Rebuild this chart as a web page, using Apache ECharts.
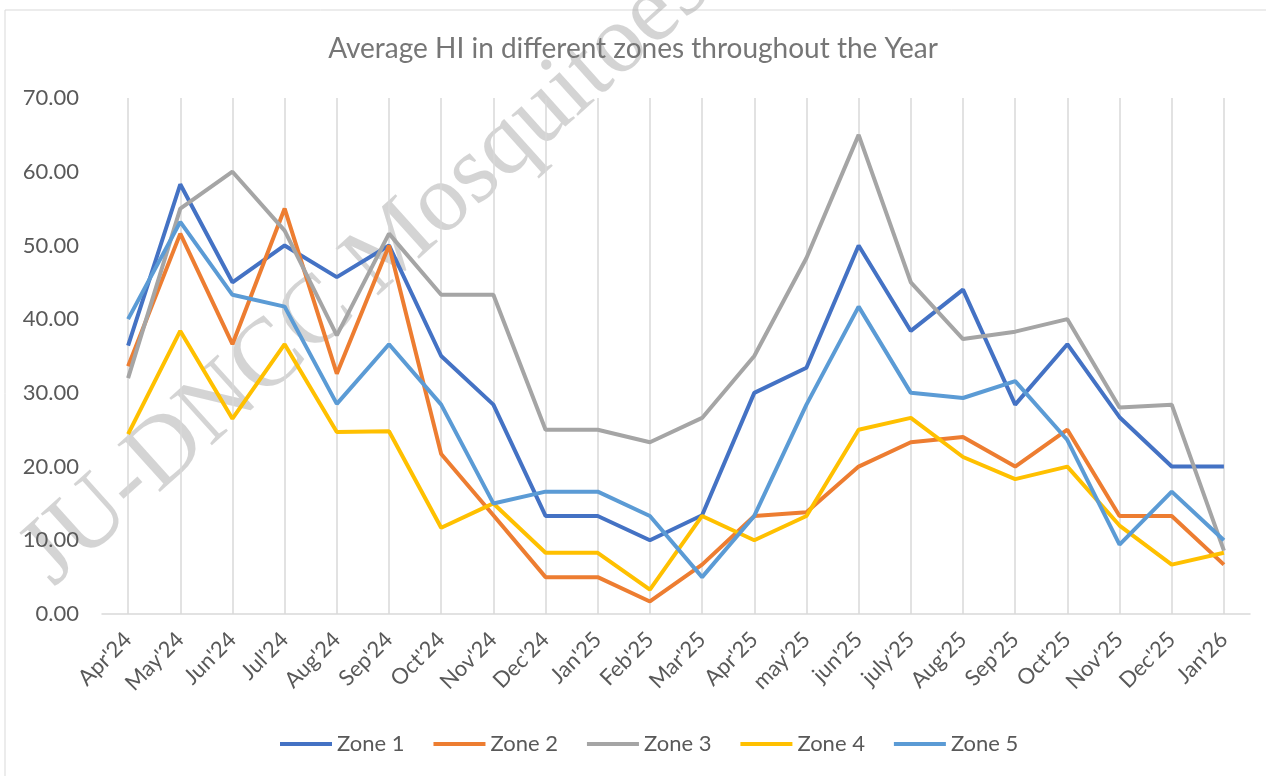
<!DOCTYPE html>
<html>
<head>
<meta charset="utf-8">
<script src="https://cdn.jsdelivr.net/npm/echarts@6/dist/echarts.min.js"></script>
<style>
  html, body { margin: 0; padding: 0; background: #fff; }
  #chart { width: 1266px; height: 776px; }
</style>
</head>
<body>
<div id="chart"></div>
<script>
// months on the x axis
const months = ["Apr'24", "May'24", "Jun'24", "Jul'24", "Aug'24", "Sep'24", "Oct'24", "Nov'24",
  "Dec'24", "Jan'25", "Feb'25", "Mar'25", "Apr'25", "may'25", "jun'25", "july'25",
  "Aug'25", "Sep'25", "Oct'25", "Nov'25", "Dec'25", "Jan'26"];

// average HI per zone
const zone1 = [36.4, 58.3, 45.0, 50.0, 45.7, 50.0, 35.0, 28.4, 13.3, 13.3, 10.0, 13.4,
  30.0, 33.4, 50.0, 38.4, 44.0, 28.4, 36.6, 26.7, 20.0, 20.0];
const zone2 = [33.6, 51.6, 36.6, 55.0, 32.6, 50.0, 21.7, 13.4, 5.0, 5.0, 1.7, 6.7,
  13.3, 13.8, 20.0, 23.3, 24.0, 20.0, 25.0, 13.3, 13.3, 6.7];
const zone3 = [32.0, 55.0, 60.0, 52.0, 37.8, 51.6, 43.3, 43.3, 25.0, 25.0, 23.3, 26.6,
  35.0, 48.3, 65.0, 45.0, 37.3, 38.3, 40.0, 28.0, 28.4, 8.6];
const zone4 = [24.4, 38.4, 26.5, 36.6, 24.7, 24.8, 11.7, 15.0, 8.3, 8.3, 3.3, 13.3,
  10.0, 13.3, 25.0, 26.6, 21.3, 18.3, 20.0, 12.0, 6.7, 8.3];
const zone5 = [40.0, 53.2, 43.3, 41.7, 28.5, 36.6, 28.4, 15.0, 16.6, 16.6, 13.3, 5.0,
  13.3, 28.4, 41.7, 30.0, 29.3, 31.6, 23.6, 9.4, 16.6, 10.0];

const zoneNames = ['Zone 1', 'Zone 2', 'Zone 3', 'Zone 4', 'Zone 5'];
const zoneData = [zone1, zone2, zone3, zone4, zone5];
const zoneColors = ['#4472C4', '#ED7D31', '#A5A5A5', '#FFC000', '#5B9BD5'];

const textColor = '#595959';
const font = 'Lato';

const chart = echarts.init(document.getElementById('chart'));

const option = {
  backgroundColor: '#ffffff',
  animation: false,
  color: zoneColors,
  title: {
    text: 'Average HI in different zones throughout the Year',
    left: 'center',
    top: 30,
    textStyle: { color: '#767676', fontFamily: font, fontSize: 28, fontWeight: 'normal' }
  },
  graphic: [
    {
      type: 'rect',
      z: -10,
      shape: { x: 5, y: 10, width: 1300, height: 800 },
      style: { fill: 'none', stroke: '#d9d9d9', lineWidth: 1 }
    },
    {
      // watermark
      type: 'text',
      z: -5,
      x: 366,
      y: 272,
      rotation: 0.733,
      style: {
        text: 'JU-DNCC Mosquitoes',
        fontFamily: 'Liberation Serif',
        fontSize: 97,
        fill: 'rgba(170,170,170,0.5)',
        align: 'center',
        verticalAlign: 'middle'
      }
    }
  ],
  legend: {
    data: zoneNames,
    bottom: 16,
    left: 275,
    icon: 'rect',
    itemWidth: 52,
    itemHeight: 4,
    itemGap: 29,
    textStyle: { color: textColor, fontFamily: font, fontSize: 22 }
  },
  grid: { left: 102, right: 16, top: 98, bottom: 162, containLabel: false },
  xAxis: {
    type: 'category',
    data: months,
    boundaryGap: true,
    axisLine: { lineStyle: { color: '#d9d9d9', width: 1.5 } },
    axisTick: { show: false },
    axisLabel: {
      rotate: 45,
      interval: 0,
      color: textColor,
      fontFamily: font,
      fontSize: 22,
      margin: 22
    },
    splitLine: { show: true, alignWithLabel: true, lineStyle: { color: '#d9d9d9', width: 1.5 } }
  },
  yAxis: {
    type: 'value',
    min: 0,
    max: 70,
    interval: 10,
    axisLine: { show: false },
    axisTick: { show: false },
    splitLine: { show: false },
    axisLabel: {
      color: textColor,
      fontFamily: font,
      fontSize: 22,
      margin: 23,
      formatter: v => v.toFixed(2)
    }
  },
  series: zoneNames.map((name, i) => ({
    name: name,
    type: 'line',
    data: zoneData[i],
    symbol: 'none',
    lineStyle: { width: 4, color: zoneColors[i] },
    itemStyle: { color: zoneColors[i] }
  }))
};

chart.setOption(option);
</script>
</body>
</html>
